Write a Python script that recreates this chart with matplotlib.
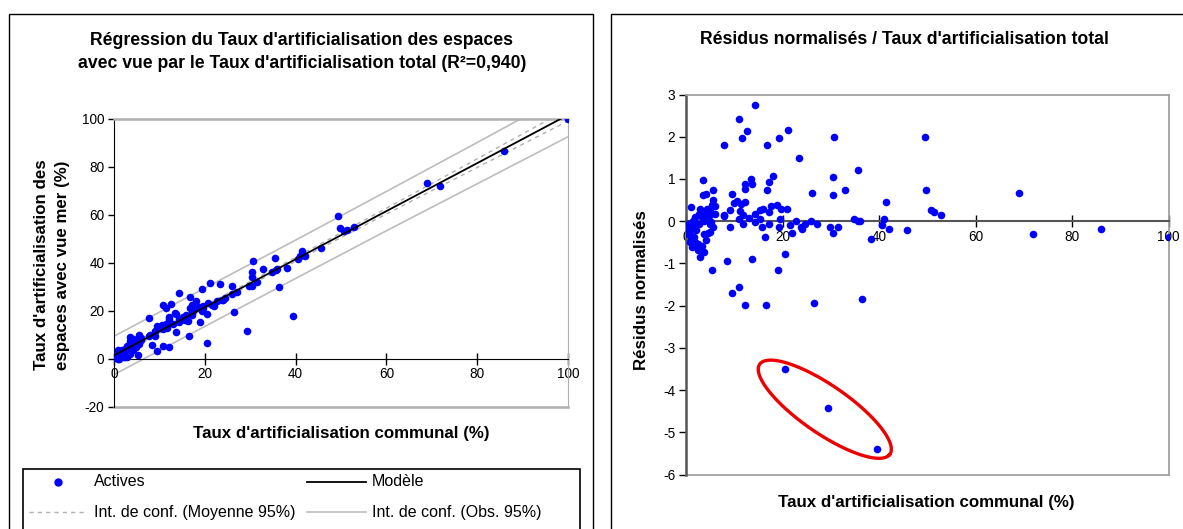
import numpy as np
import matplotlib
matplotlib.use("Agg")
import matplotlib.pyplot as plt
from matplotlib.lines import Line2D
from matplotlib.patches import Rectangle

plt.rcParams['font.family'] = ['Liberation Sans', 'DejaVu Sans']
plt.rcParams['axes.unicode_minus'] = False

# communes actives : taux communal (x), taux vue mer (y gauche), residus normalises (y droite)
taux_communal = [14.3, 10.9, 12.5, 11.5, 7.8, 16.8, 21.1, 19.3, 30.7, 49.4, 23.3, 35.5, 30.4, 18.0, 13.4, 13.7,
                 3.5, 12.2, 12.1, 17.2, 16.8, 5.6, 32.9, 49.7, 68.9, 26.1, 30.4, 9.4, 3.5, 4.1, 41.4, 5.6,
                 10.5, 9.9, 12.1, 11.4, 5.3, 5.9, 0.9, 18.7, 17.5, 19.6, 20.8, 15.9, 15.2, 9.0, 11.1, 2.8,
                 50.7, 51.4, 52.9, 17.1, 14.3, 7.8, 5.9, 3.9, 2.6, 4.9, 4.3, 11.7, 12.9, 15.2, 19.5, 25.9,
                 22.7, 34.8, 35.6, 36.0, 41.0, 10.9, 14.3, 11.7, 17.2, 15.6, 19.3, 21.5, 23.7, 24.5, 23.9,
                 27.0, 29.7, 31.5, 30.4, 22.0, 40.6, 42.0, 45.7, 71.8, 86.0, 100.0, 38.2, 16.2, 9.0, 20.5,
                 13.7, 8.4, 19.0, 5.3, 9.4, 10.9, 12.2, 16.5, 26.4, 36.4, 20.5, 29.3, 39.5,
                 1.5, 1.85, 1.2, 0.3, 0.6, 1.4, 2.2, 2.7, 3.6, 4.6, 5.1, 5.6, 4.8, 3.3, 2.0, 0.5, 0.8, 1.5,
                 1.85, 2.5, 3.6, 4.1, 3.2, 2.9, 3.6, 4.4, 4.8, 0.8, 1.2, 2.5, 0.2, 0.1, 0.4, 1.0, 2.2, 7.9]

taux_vue_mer = [27.3, 22.5, 22.9, 21.1, 16.8, 25.8, 31.6, 28.9, 40.5, 59.4, 31.0, 41.9, 36.1, 23.8, 18.9, 18.7,
                8.9, 17.2, 16.6, 22.4, 21.2, 10.0, 37.3, 54.3, 73.3, 30.2, 34.2, 13.4, 7.3, 8.1, 44.8, 9.0,
                13.8, 12.9, 15.3, 14.3, 8.2, 8.6, 3.5, 21.6, 20.2, 22.1, 23.2, 18.3, 17.5, 11.3, 13.3, 5.2,
                53.2, 53.7, 54.9, 19.2, 16.3, 9.6, 7.9, 5.8, 4.6, 7.2, 6.7, 13.5, 14.4, 16.6, 20.9, 27.1,
                23.9, 36.3, 36.9, 37.3, 42.6, 12.3, 15.4, 12.6, 18.1, 16.2, 19.9, 22.3, 24.3, 25.4, 24.3,
                27.9, 30.3, 32.1, 30.4, 22.0, 41.6, 42.6, 46.2, 72.0, 86.7, 100.0, 37.8, 15.8, 9.6, 18.4,
                11.1, 5.5, 15.2, 1.5, 3.3, 5.4, 4.9, 9.2, 19.3, 29.7, 6.6, 11.5, 17.6,
                2.9, 3.4, 2.3, 1.2, 1.3, 2.0, 3.1, 3.6, 4.8, 6.3, 6.2, 6.2, 5.7, 4.9, 2.3, 0.8, 0.7, 1.1,
                0.9, 1.4, 3.5, 3.4, 1.9, 0.5, 1.7, 4.4, 4.9, 0.0, 0.0, 0.7, 0.5, 0.7, 0.3, 0.5, 0.8, 9.7]

residus = [2.74, 2.42, 2.14, 1.96, 1.81, 1.81, 2.17, 1.96, 2.0, 2.0, 1.5, 1.21, 1.04, 1.07, 0.99, 0.88,
           0.97, 0.88, 0.77, 0.93, 0.75, 0.75, 0.75, 0.75, 0.68, 0.68, 0.61, 0.64, 0.61, 0.64, 0.46, 0.5,
           0.49, 0.42, 0.46, 0.40, 0.39, 0.36, 0.33, 0.39, 0.36, 0.3, 0.29, 0.29, 0.26, 0.26, 0.24, 0.29,
           0.26, 0.22, 0.15, 0.22, 0.18, 0.15, 0.18, 0.17, 0.18, 0.26, 0.29, 0.15, 0.08, 0.05, 0.05, 0.01,
           0.01, 0.05, 0.01, 0.0, 0.05, 0.05, -0.02, -0.06, -0.06, -0.13, -0.13, -0.1, -0.13, -0.06, -0.18,
           -0.06, -0.13, -0.13, -0.27, -0.27, -0.1, -0.18, -0.21, -0.31, -0.18, -0.38, -0.41, -0.38, -0.14, -0.77,
           -0.89, -0.95, -1.16, -1.16, -1.69, -1.56, -1.98, -1.98, -1.94, -1.84, -3.5, -4.42, -5.38,
           0.04, 0.09, -0.02, -0.06, -0.12, -0.13, -0.07, -0.06, 0.01, 0.12, -0.02, -0.13, -0.06, 0.1, -0.21,
           -0.21, -0.31, -0.37, -0.49, -0.53, -0.31, -0.45, -0.59, -0.84, -0.72, -0.27, -0.25, -0.49, -0.61,
           -0.69, -0.21, -0.15, -0.3, -0.4, -0.6, 0.13]

# modele et intervalles de confiance
x_modele = [0, 20, 40, 60, 80, 100]
y_modele = [1.3, 21.4, 41.4, 61.5, 81.5, 101.6]
obs_haut = [9.3, 29.4, 49.4, 69.7, 90.1, 110.7]
obs_bas = [-6.7, 13.4, 33.4, 53.3, 72.9, 92.5]
moy_haut = [2.2, 22.1, 42.2, 62.7, 83.3, 104.1]
moy_bas = [0.4, 20.7, 40.6, 60.3, 79.7, 99.1]

BLEU = '#0000FF'
GRIS = '#BDBDBD'
T_TITRE = 12.7
T_AXE = 12.2
T_TICK = 9.8

fig = plt.figure(figsize=(11.83, 5.29), dpi=100)

# cadres des deux graphiques
fig.add_artist(Rectangle((9/1183, -0.02), 584/1183, 1.02 - 14/529, transform=fig.transFigure,
                         fill=False, edgecolor='black', lw=1))
fig.add_artist(Rectangle((611/1183, -0.02), 0.5, 1.02 - 14/529, transform=fig.transFigure,
                         fill=False, edgecolor='black', lw=1))

# ---------------- graphique de gauche : regression ----------------
ax1 = fig.add_axes([114/1183, 1 - 406.5/529, (568 - 114)/1183, (406.5 - 118.8)/529])
ax1.plot(x_modele, obs_haut, color=GRIS, lw=1.2, zorder=1)
ax1.plot(x_modele, obs_bas, color=GRIS, lw=1.2, zorder=1)
ax1.plot(x_modele, moy_haut, color='#B0B0B0', lw=1, ls=(0, (3, 3)), zorder=1)
ax1.plot(x_modele, moy_bas, color='#B0B0B0', lw=1, ls=(0, (3, 3)), zorder=1)
ax1.scatter(taux_communal, taux_vue_mer, s=30, color=BLEU, zorder=3, linewidths=0)
ax1.plot(x_modele, y_modele, color='black', lw=1.3, zorder=4)

ax1.set_xlim(0, 100)
ax1.set_ylim(-20, 100)
ax1.set_xticks(range(0, 101, 20))
ax1.set_yticks(range(-20, 101, 20))
ax1.spines['bottom'].set_position(('data', 0))
ax1.spines['bottom'].set_color('black')
ax1.spines['left'].set_color('black')
ax1.spines['top'].set_color('#B0B0B0')
ax1.spines['top'].set_linewidth(1.8)
ax1.spines['right'].set_color('#B0B0B0')
ax1.axhline(-20, color='#B0B0B0', lw=1.8, clip_on=False)
ax1.tick_params(axis='x', direction='inout', length=8, width=1, labelsize=T_TICK, pad=2)
ax1.tick_params(axis='y', direction='out', length=4, width=1, labelsize=T_TICK, pad=3)

fig.text(302/1183, 1 - 40/529, "Régression du Taux d'artificialisation des espaces",
         ha='center', va='center', fontsize=T_TITRE, fontweight='bold')
fig.text(302/1183, 1 - 64/529, "avec vue par le Taux d'artificialisation total (R²=0,940)",
         ha='center', va='center', fontsize=T_TITRE, fontweight='bold')
fig.text(52/1183, 1 - 265/529, "Taux d'artificialisation des\nespaces avec vue mer (%)",
         ha='center', va='center', rotation=90, fontsize=T_AXE, fontweight='bold', linespacing=1.45)
fig.text(341/1183, 1 - 433.5/529, "Taux d'artificialisation communal (%)",
         ha='center', va='center', fontsize=T_AXE, fontweight='bold')

# legende
fig.add_artist(Rectangle((23/1183, -0.02), (580 - 23)/1183, (529 - 469)/529 + 0.02,
                         transform=fig.transFigure, fill=False, edgecolor='black', lw=1.2))
y1 = 1 - 482/529
y2 = 1 - 512/529
fig.add_artist(Line2D([58/1183], [y1], marker='o', color=BLEU, markersize=5, lw=0,
                      transform=fig.transFigure))
fig.add_artist(Line2D([307/1183, 366/1183], [y1, y1], color='black', lw=1.3, transform=fig.transFigure))
fig.add_artist(Line2D([29/1183, 87/1183], [y2, y2], color='#B0B0B0', lw=1, ls=(0, (3, 3)),
                      transform=fig.transFigure))
fig.add_artist(Line2D([307/1183, 366/1183], [y2, y2], color=GRIS, lw=1.2, transform=fig.transFigure))
fig.text(94/1183, y1, "Actives", ha='left', va='center', fontsize=11.5)
fig.text(372/1183, y1, "Modèle", ha='left', va='center', fontsize=11.5)
fig.text(94/1183, y2, "Int. de conf. (Moyenne 95%)", ha='left', va='center', fontsize=11.5)
fig.text(372/1183, y2, "Int. de conf. (Obs. 95%)", ha='left', va='center', fontsize=11.5)

# ---------------- graphique de droite : residus ----------------
ax2 = fig.add_axes([686.4/1183, 1 - 474.7/529, (1168.6 - 686.4)/1183, (474.7 - 94.5)/529])
ax2.scatter(taux_communal, residus, s=30, color=BLEU, zorder=3, linewidths=0)

# ellipse rouge autour des trois valeurs aberrantes
t = np.linspace(0, 2 * np.pi, 200)
cx, cy = 28.7, -4.45
ex = cx + 13.4 * np.cos(t) + 3.3 * np.sin(t)
ey = cy - 1.08 * np.cos(t) + 0.43 * np.sin(t)
ax2.plot(ex, ey, color='#EE0000', lw=2.4, zorder=4)

ax2.set_xlim(0, 100)
ax2.set_ylim(-6, 3)
ax2.set_xticks(range(0, 101, 20))
ax2.set_yticks(range(-6, 4))
ax2.spines['bottom'].set_position(('data', 0))
ax2.spines['bottom'].set_color('#555555')
ax2.spines['bottom'].set_linewidth(1.5)
ax2.spines['left'].set_color('#555555')
ax2.spines['left'].set_linewidth(1.8)
ax2.spines['top'].set_color('#A0A0A0')
ax2.spines['top'].set_linewidth(1.3)
ax2.spines['right'].set_color('#A0A0A0')
ax2.spines['right'].set_linewidth(1.3)
ax2.axhline(-6, color='#A0A0A0', lw=1.3, clip_on=False)
ax2.tick_params(axis='x', direction='inout', length=8, width=1, labelsize=T_TICK, pad=2)
ax2.tick_params(axis='y', direction='out', length=5, width=1, labelsize=T_TICK, pad=3)

fig.text(904/1183, 1 - 39/529, "Résidus normalisés / Taux d'artificialisation total",
         ha='center', va='center', fontsize=T_TITRE, fontweight='bold')
fig.text(641/1183, 1 - 290/529, "Résidus normalisés",
         ha='center', va='center', rotation=90, fontsize=T_AXE, fontweight='bold')
fig.text(926/1183, 1 - 502/529, "Taux d'artificialisation communal (%)",
         ha='center', va='center', fontsize=T_AXE, fontweight='bold')

fig.savefig('out.png', dpi=100)
